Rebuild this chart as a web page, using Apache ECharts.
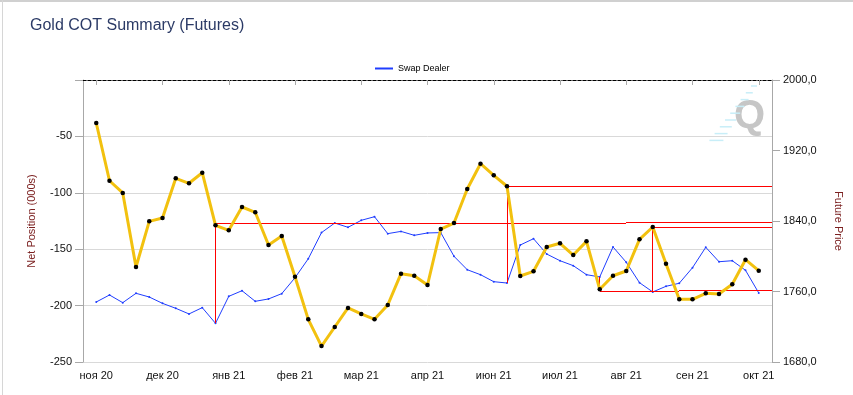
<!DOCTYPE html>
<html><head><meta charset="utf-8">
<script src="https://cdn.jsdelivr.net/npm/echarts@6/dist/echarts.min.js"></script>
<style>html,body{margin:0;padding:0;background:#fff}#c{width:853px;height:395px}</style>
</head><body><div id="c"></div>
<script>
// Month tick labels (one every 5 weekly points)
const monthLabels = ['ноя 20','дек 20','янв 21','фев 21','мар 21','апр 21','июн 21','июл 21','авг 21','сен 21','окт 21'];

// Swap Dealer net position (000s), weekly, left axis
const swapDealer = [
  -196.8,-190.6,-197.4,-189.1,-192.4,-198.0,-202.4,-207.4,-201.8,-215.7,
  -191.8,-186.8,-196.2,-194.1,-189.4,-175.3,-158.5,-135.3,-126.8,-130.6,
  -124.4,-121.2,-136.2,-134.2,-137.7,-135.6,-135.3,-156.3,-168.2,-172.6,
  -178.8,-180.0,-146.3,-140.7,-154.3,-160.2,-164.6,-172.6,-174.6,-148.0,
  -161.6,-179.7,-187.9,-182.9,-180.2,-166.4,-148.3,-161.1,-160.2,-168.7,-188.8
];

// Gold future price, weekly, right axis
const goldPrice = [
  1951.2,1885.7,1871.8,1787.8,1839.6,1843.4,1888.4,1882.8,1894.8,1835.1,
  1829.4,1855.9,1849.9,1812.8,1823.0,1776.8,1728.4,1698.1,1719.7,1741.3,
  1734.5,1728.4,1744.7,1780.2,1777.9,1767.4,1830.9,1837.7,1876.3,1905.0,
  1891.8,1879.4,1777.6,1782.9,1810.5,1814.7,1801.4,1816.9,1762.5,1777.9,
  1783.3,1819.2,1833.2,1791.5,1751.1,1751.1,1757.9,1757.2,1768.2,1796.1,1783.6
];

// Red annotation levels: [fromWeek, toWeek, price]
const levelLines = [[9,40,1837.2],[40,51,1838.5],[31,51,1879.4],[42,51,1832.4],[38,44,1760.2],[44,51,1760.9]];
// Red vertical connectors: [week, price level] drawn from the Swap Dealer point
const connectors = [[9,1837.2],[31,1879.4],[42,1832.4],[38,1760.2]];

const L_MIN = -250, L_MAX = 0, R_MIN = 1680, R_MAX = 2000;
const toLeft = p => L_MIN + (p - R_MIN) / (R_MAX - R_MIN) * (L_MAX - L_MIN);

// weekly categories with one empty slot padding each side
const weekLabels = swapDealer.map((_, i) => i % 5 === 0 ? monthLabels[i / 5] : '');
const cats = [''].concat(weekLabels, ['']);
const pad = arr => [null].concat(arr, [null]);
const P = i => i + 1;

const FONT = 'Liberation Sans, Arial, sans-serif';
const chart = echarts.init(document.getElementById('c'), null, {renderer: 'canvas'});

const streaks = [];
for (let k = 0; k < 9; k++) {
  const y = 86 + k * 6.8;
  const x2 = 757 - k * 4.2;
  streaks.push({type: 'line', z: -1, silent: true,
    shape: {x1: x2 - (6 + k), y1: y, x2: x2, y2: y},
    style: {stroke: '#c8eef8', lineWidth: 1.5}});
}

const crisp = v => Math.floor(v) + 0.5;
const RED = '#ff0000';

chart.setOption({
  animation: false,
  textStyle: {fontFamily: FONT},
  title: {text: 'Gold COT Summary (Futures)', left: 25, top: 13,
    textStyle: {fontSize: 16, fontWeight: 'normal', color: '#2b3a66', fontFamily: FONT}},
  legend: {data: [{name: 'Swap Dealer', icon: 'rect'}], left: 370, top: 59,
    itemWidth: 18, itemHeight: 2, textStyle: {fontSize: 9, color: '#000', fontFamily: FONT}},
  grid: {left: 83, right: 81, top: 80, bottom: 33, containLabel: false},
  xAxis: [{
    type: 'category', data: cats, boundaryGap: false,
    axisLine: {lineStyle: {color: '#a8a8a8'}},
    axisTick: {length: 5, lineStyle: {color: '#a8a8a8'}, interval: (i, v) => v !== ''},
    axisLabel: {interval: 0, fontSize: 11, color: '#111', margin: 8},
    splitLine: {show: false}
  }, {
    type: 'category', data: cats, boundaryGap: false, position: 'top',
    axisLine: {lineStyle: {color: '#000', type: [3, 2], width: 1}},
    axisTick: {show: false}, axisLabel: {show: false}, splitLine: {show: false}
  }],
  yAxis: [{
    type: 'value', min: L_MIN, max: L_MAX, interval: 50, position: 'left',
    name: 'Net Position (000s)', nameLocation: 'middle', nameGap: 46, nameRotate: 90,
    nameTextStyle: {fontSize: 11, color: '#7b2020'},
    axisLine: {show: true, lineStyle: {color: '#a8a8a8'}},
    axisTick: {show: true, length: 8, lineStyle: {color: '#a8a8a8'}},
    axisLabel: {fontSize: 11, color: '#111', margin: 11, formatter: v => v === 0 ? '' : String(v)},
    splitLine: {show: true, lineStyle: {color: '#d9d9d9'}}
  }, {
    type: 'value', min: R_MIN, max: R_MAX, interval: 80, position: 'right',
    name: 'Future Price', nameLocation: 'middle', nameGap: 61, nameRotate: -90,
    nameTextStyle: {fontSize: 11, color: '#7b2020'},
    axisLine: {show: true, lineStyle: {color: '#a8a8a8'}},
    axisTick: {show: true, length: 8, lineStyle: {color: '#a8a8a8'}},
    axisLabel: {fontSize: 11, color: '#111', margin: 11, formatter: v => v.toFixed(1).replace('.', ',')},
    splitLine: {show: false}
  }],
  graphic: [
    {type: 'line', shape: {x1: 0, y1: 1, x2: 853, y2: 1}, style: {stroke: '#d0d0d0', lineWidth: 2}},
    {type: 'line', shape: {x1: 2.5, y1: 0, x2: 2.5, y2: 395}, style: {stroke: '#d6d6d6', lineWidth: 1}},
    {type: 'text', left: 734, top: 97, z: -1, silent: true,
      style: {text: 'Q', font: 'bold 40px ' + FONT, fill: '#c6c6c6'}}
  ].concat(streaks),
  series: [{
    name: 'Swap Dealer', type: 'line', xAxisIndex: 0, yAxisIndex: 0, data: pad(swapDealer),
    z: 3, symbol: 'circle', symbolSize: 2, showSymbol: true,
    itemStyle: {color: '#1f3dff'}, lineStyle: {color: '#1f3dff', width: 1}
  }, {
    name: 'Gold', type: 'line', xAxisIndex: 0, yAxisIndex: 1, data: pad(goldPrice),
    z: 4, symbol: 'circle', symbolSize: 4.5, showSymbol: true,
    itemStyle: {color: '#000'}, lineStyle: {color: '#f2c10f', width: 3}
  }, {
    name: 'levels', type: 'custom', xAxisIndex: 0, yAxisIndex: 1, z: 3.5, silent: true,
    encode: {x: [0, 1], y: 2},
    data: levelLines.map(([a, b, p]) => [P(a), P(b), p]),
    renderItem: (params, api) => {
      const s = api.coord([api.value(0), api.value(2)]);
      const e = api.coord([api.value(1), api.value(2)]);
      const y = crisp(s[1]);
      return {type: 'line', shape: {x1: Math.round(s[0]), y1: y, x2: Math.round(e[0]), y2: y},
        style: {stroke: RED, lineWidth: 1}};
    }
  }, {
    name: 'connectors', type: 'custom', xAxisIndex: 0, yAxisIndex: 0, z: 3.5, silent: true,
    encode: {x: 0, y: [1, 2]},
    data: connectors.map(([i, p]) => [P(i), swapDealer[i], toLeft(p)]),
    renderItem: (params, api) => {
      const s = api.coord([api.value(0), api.value(1)]);
      const e = api.coord([api.value(0), api.value(2)]);
      const x = crisp(s[0]);
      return {type: 'line', shape: {x1: x, y1: Math.round(s[1]), x2: x, y2: Math.round(e[1])},
        style: {stroke: RED, lineWidth: 1}};
    }
  }]
});
</script></body></html>
